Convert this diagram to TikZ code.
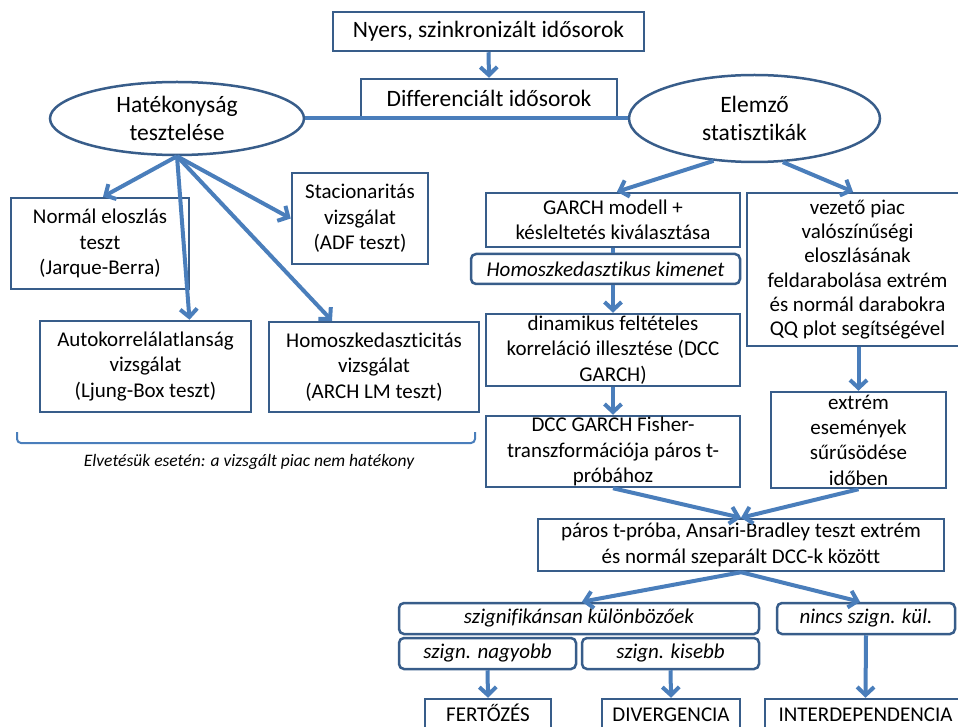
\documentclass[tikz,border=0pt]{standalone}
\usepackage{fontspec}
\setmainfont{Carlito}[Ligatures={NoCommon,NoContextual}]
\usetikzlibrary{arrows.meta,shapes.geometric}
\definecolor{boxc}{HTML}{385D8A}
\definecolor{arrc}{HTML}{4A7EBB}
\begin{document}
\begin{tikzpicture}[x=1pt,y=-1pt,
  box/.style={draw=boxc,line width=2.5pt,rectangle,align=center,inner xsep=0pt,inner ysep=-4pt,font=\fontsize{21}{25.3}\selectfont},
  rbox/.style={box,rounded corners=5pt,font=\itshape\fontsize{21}{25}\selectfont},
  bigbox/.style={box,font=\fontsize{23.5}{28.5}\selectfont},
  ell/.style={draw=boxc,line width=2.5pt,ellipse,align=center,inner sep=0pt,font=\fontsize{23.5}{28.5}\selectfont},
  arr/.style={draw=arrc,line width=4pt,-{Straight Barb[length=8pt,width=17pt]}},
  lnk/.style={draw=arrc,line width=4pt},
  brk/.style={draw=arrc,line width=2pt,rounded corners=4pt},
  note/.style={font=\itshape\fontsize{17.5}{21}\selectfont,inner sep=0pt}
]
\useasboundingbox (0,0) rectangle (958,727);
\clip (0,0) rectangle (958,727);
% top
\node[bigbox,minimum width=311pt,minimum height=39pt] (nyers) at (488.5,31.5) {Nyers, szinkronizált idősorok};
\node[bigbox,minimum width=256pt,minimum height=38pt] (diff) at (489,98) {Differenciált idősorok};
\node[ell,minimum width=254pt,minimum height=73pt] (hat) at (177,118.5) {Hatékonyság\\tesztelése};
\node[ell,minimum width=251pt,minimum height=87pt] (elem) at (754.5,118.5) {Elemző\\statisztikák};
% left
\node[box,minimum width=178pt,minimum height=91pt] (norm) at (100,243.5) {Normál eloszlás\\teszt\\(Jarque-Berra)};
\node[box,minimum width=136pt,minimum height=91pt] (stac) at (360,218.5) {Stacionaritás\\vizsgálat\\(ADF teszt)};
\node[box,minimum width=211pt,minimum height=91pt] (auto) at (145.5,366.5) {Autokorrelálatlanság\\vizsgálat\\(Ljung-Box teszt)};
\node[box,minimum width=210pt,minimum height=90pt] (homo) at (374,367) {Homoszkedaszticitás\\vizsgálat\\(ARCH LM teszt)};
\draw[brk] (17,432) -- (17,443) -- (475,443) -- (475,432);
\node[note] (elv) at (249,462) {Elvetésük esetén: a vizsgált piac nem hatékony};
% right
\node[box,minimum width=254pt,minimum height=54pt] (garch) at (613,220) {GARCH modell +\\késleltetés kiválasztása};
\node[box,minimum width=221pt,minimum height=153pt,font=\fontsize{21}{24.3}\selectfont] (vez) at (857.5,269.5) {vezető piac\\valószínűségi\\eloszlásának\\feldarabolása extrém\\és normál darabokra\\QQ plot segítségével};
\node[rbox,minimum width=269pt,minimum height=30pt] (hk) at (605.5,269) {Homoszkedasztikus kimenet};
\node[box,minimum width=254pt,minimum height=72pt] (dina) at (613,350) {dinamikus feltételes\\korreláció illesztése (DCC\\GARCH)};
\node[box,minimum width=254pt,minimum height=71pt] (dcc) at (613,451.5) {DCC GARCH Fisher-\\transzformációja páros t-\\próbához};
\node[box,minimum width=175pt,minimum height=96pt] (ext) at (858.5,440) {extrém\\események\\sűrűsödése\\időben};
\node[box,minimum width=406pt,minimum height=52pt] (paros) at (741,545) {páros t-próba, Ansari-Bradley teszt extrém\\és normál szeparált DCC-k között};
\node[rbox,minimum width=360pt,minimum height=31pt] (szig) at (579,618.5) {szignifikánsan különbözőek};
\node[rbox,minimum width=178pt,minimum height=31pt] (nincs) at (866,618.5) {nincs szign. kül.};
\node[rbox,minimum width=177pt,minimum height=31pt] (nagy) at (487.5,653.5) {szign. nagyobb};
\node[rbox,minimum width=177pt,minimum height=31pt] (kis) at (670.5,653.5) {szign. kisebb};
\node[box,minimum width=126pt,minimum height=44pt] (fert) at (488,721) {\smash{FERTŐZÉS}};
\node[box,minimum width=138pt,minimum height=44pt] (div) at (671,721) {\smash{DIVERGENCIA}};
\node[box,minimum width=201pt,minimum height=44pt] (inter) at (865.5,721) {\smash{INTERDEPENDENCIA}};
% connectors
\draw[arr] (nyers.south) -- (diff.north);
\draw[lnk] (hat.east) -- (elem.west);
\draw[arr] (hat.south) -- ([xshift=3pt]norm.north);
\draw[arr] (hat.south) -- ([xshift=44pt]auto.north);
\draw[arr] (hat.south) -- (stac.west);
\draw[arr] (hat.south) -- ([xshift=-42pt]homo.north);
\draw[arr] (elem.226) -- ([xshift=4pt]garch.north);
\draw[arr] (elem.303) -- ([xshift=-4.5pt]vez.north);
\draw[lnk] (garch.south) -- (garch.south |- hk.north);
\draw[arr] (dina.north |- hk.south) -- (dina.north);
\draw[arr] (dina.south) -- (dcc.north);
\draw[arr] (ext.north |- vez.south) -- (ext.north);
\draw[arr] (dcc.south) -- (paros.north);
\draw[arr] (ext.south) -- (paros.north);
\draw[arr] (paros.south) -- ([xshift=3pt]szig.north);
\draw[arr] (paros.south) -- ([xshift=-6pt]nincs.north);
\draw[arr] (nagy.south) -- (fert.north);
\draw[arr] (kis.south) -- (div.north);
\draw[arr] (nincs.south) -- (inter.north);
\end{tikzpicture}
\end{document}
